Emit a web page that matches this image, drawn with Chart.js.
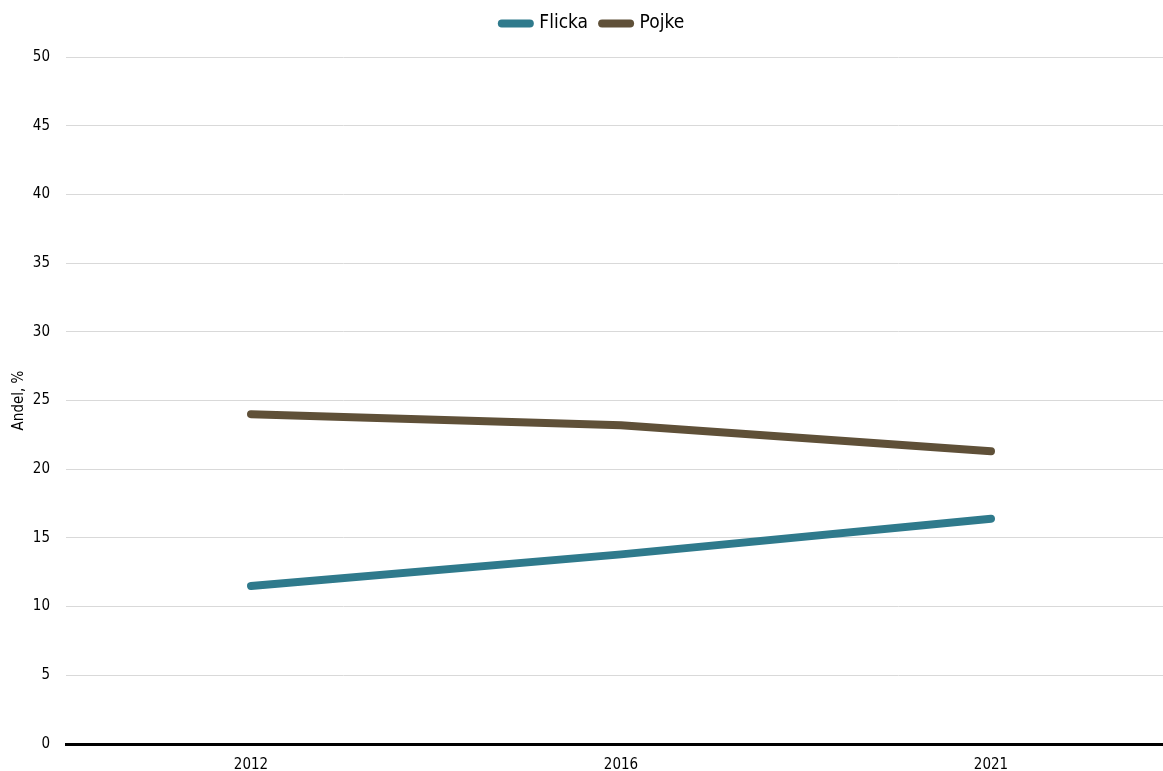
<!DOCTYPE html>
<html>
<head>
<meta charset="utf-8">
<script src="https://cdn.jsdelivr.net/npm/chart.js@4/dist/chart.umd.min.js"></script>
<style>
  html, body { margin: 0; padding: 0; background: #ffffff; overflow: hidden; }
  #wrap { position: relative; width: 1176px; height: 771px; }
</style>
</head>
<body>
<div id="wrap"><canvas id="chart"></canvas></div>
<script>
// Share of children (%) by survey year
const years = ['2012', '2016', '2021'];
const flicka = [11.5, 13.8, 16.4];
const pojke = [24.0, 23.2, 21.3];
const yTicks = [0, 5, 10, 15, 20, 25, 30, 35, 40, 45, 50];

const FONT = '"Liberation Sans Narrow", "DejaVu Sans Condensed", "Liberation Sans", sans-serif';

// Extra room between the legend and the plot area, and a small horizontal nudge
const legendGap = {
  id: 'legendGap',
  beforeInit(chart) {
    const origFit = chart.legend.fit;
    chart.legend.fit = function () {
      origFit.call(this);
      this.height += 14;
    };
  },
  afterLayout(chart) {
    chart.legend.left += 5;
    chart.legend.right += 5;
  }
};

new Chart(document.getElementById('chart'), {
  type: 'line',
  data: {
    labels: years,
    datasets: [
      {
        label: 'Flicka',
        data: flicka,
        borderColor: '#2f7a8c',
        backgroundColor: '#2f7a8c',
        borderWidth: 8,
        borderCapStyle: 'round',
        borderJoinStyle: 'round',
        pointRadius: 0,
        pointHoverRadius: 0,
        tension: 0
      },
      {
        label: 'Pojke',
        data: pojke,
        borderColor: '#5f5038',
        backgroundColor: '#5f5038',
        borderWidth: 8,
        borderCapStyle: 'round',
        borderJoinStyle: 'round',
        pointRadius: 0,
        pointHoverRadius: 0,
        tension: 0
      }
    ]
  },
  options: {
    responsive: true,
    maintainAspectRatio: false,
    animation: false,
    layout: { padding: { left: 0, right: 0, top: 0, bottom: 0 } },
    plugins: {
      tooltip: { enabled: false },
      legend: {
        position: 'top',
        align: 'center',
        labels: {
          usePointStyle: true,
          pointStyle: 'line',
          pointStyleWidth: 28,
          boxHeight: 6,
          padding: 14,
          color: '#000000',
          font: { family: FONT, size: 19 },
          generateLabels(chart) {
            const items = Chart.defaults.plugins.legend.labels.generateLabels(chart);
            items.forEach(it => { it.lineCap = 'round'; it.lineWidth = 8; });
            return items;
          }
        }
      }
    },
    scales: {
      x: {
        offset: true,
        afterFit(scale) { scale.height = 27; },
        grid: { display: false, drawTicks: false },
        border: { display: true, color: '#000000', width: 3 },
        ticks: { color: '#000000', padding: 12, font: { family: FONT, size: 15 } }
      },
      y: {
        min: 0,
        max: 50,
        afterFit(scale) { scale.width = 66; },
        afterBuildTicks: (scale) => { scale.ticks = yTicks.map(v => ({ value: v })); },
        grid: { color: '#d9d9d9', lineWidth: 1, drawTicks: false },
        border: { display: false },
        ticks: { color: '#000000', padding: 16, font: { family: FONT, size: 15 } },
        title: {
          display: true,
          text: 'Andel, %',
          color: '#000000',
          padding: { top: 10, bottom: 0 },
          font: { family: FONT, size: 15 }
        }
      }
    }
  },
  plugins: [legendGap]
});
</script>
</body>
</html>
